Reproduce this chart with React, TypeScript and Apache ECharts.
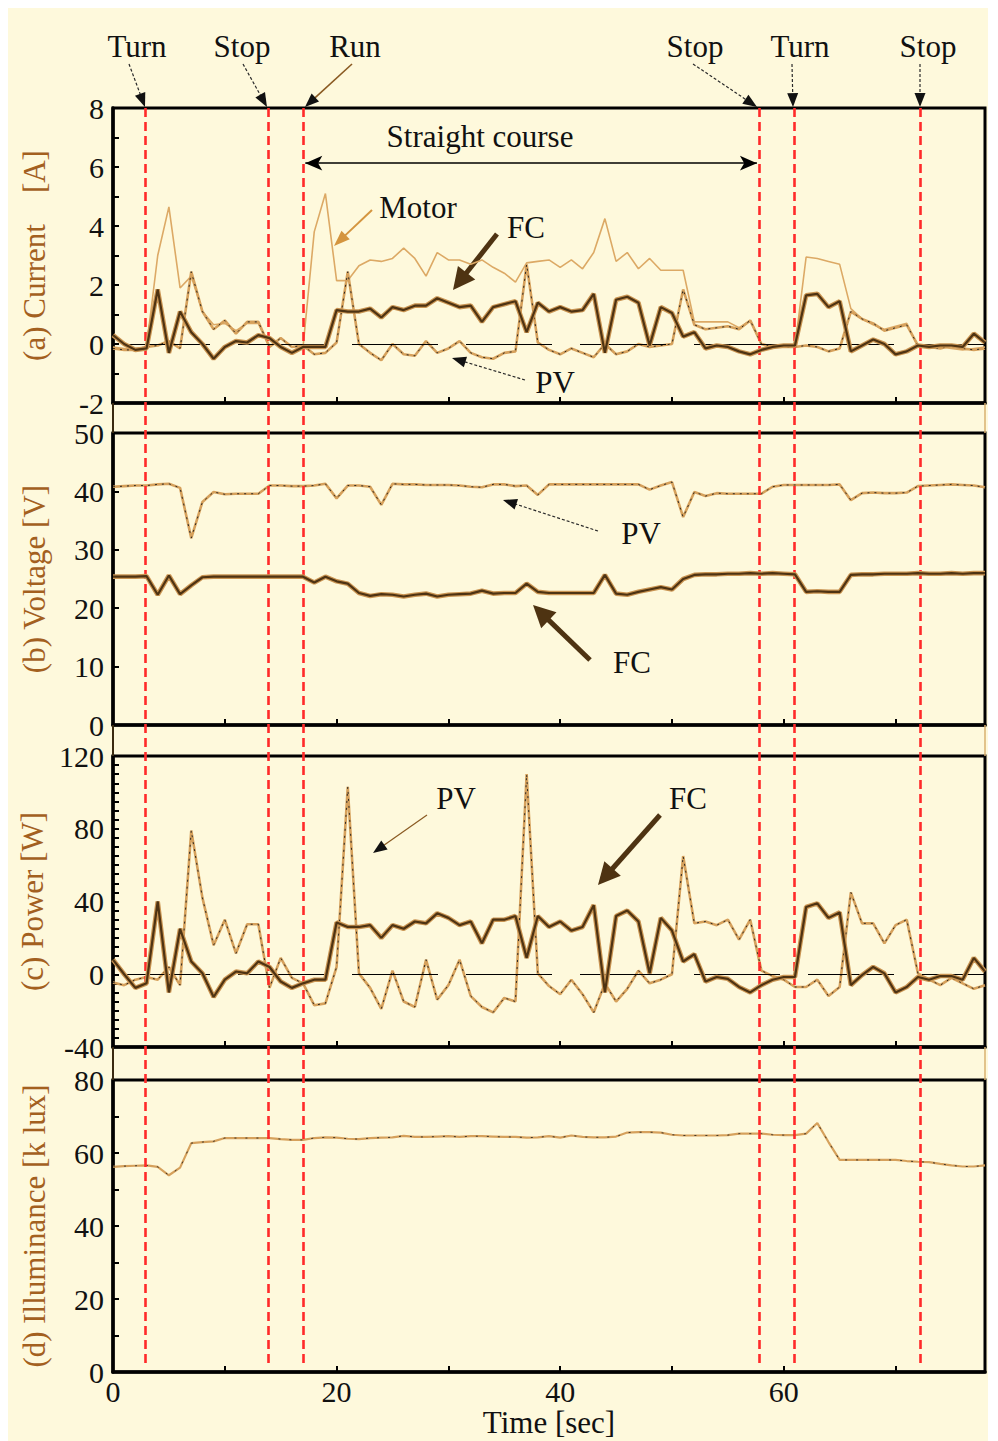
import React, { useEffect, useRef } from "react";
import * as echarts from "echarts";

// ---------------- data ----------------
const TIME = [
  0, 1, 2, 3, 4, 5, 6, 7, 8, 9, 10, 11, 12, 13, 14, 15, 16, 17, 18, 19,
  20, 21, 22, 23, 24, 25, 26, 27, 28, 29, 30, 31, 32, 33, 34, 35, 36, 37, 38, 39,
  40, 41, 42, 43, 44, 45, 46, 47, 48, 49, 50, 51, 52, 53, 54, 55, 56, 57, 58, 59,
  60, 61, 62, 63, 64, 65, 66, 67, 68, 69, 70, 71, 72, 73, 74, 75, 76, 77, 78,
];

const MOTOR_CURRENT = [
  -0.1, -0.15, -0.15, -0.1, 3.0, 4.65, 1.9, 2.3, 1.1, 0.65,
  0.7, 0.45, 0.7, 0.7, -0.1, 0.2, -0.1, -0.1, 3.8, 5.1,
  2.15, 2.15, 2.65, 2.85, 2.8, 2.9, 3.25, 2.9, 2.3, 3.1,
  2.85, 2.85, 2.7, 2.85, 2.6, 2.4, 2.1, 2.75, 2.8, 2.85,
  2.6, 2.85, 2.55, 3.1, 4.25, 2.8, 3.1, 2.55, 2.9, 2.5,
  2.5, 2.5, 0.75, 0.75, 0.75, 0.75, 0.55, 0.8, 0.0, -0.1,
  -0.1, -0.1, 2.95, 2.9, 2.8, 2.7, 1.2, 0.85, 0.65, 0.5,
  0.6, 0.7, -0.1, -0.1, -0.1, -0.15, -0.2, -0.15, -0.1,
];

const PV_CURRENT = [
  -0.15, -0.2, -0.2, -0.1, -0.05, 0.1, -0.15, 2.45, 1.1, 0.5,
  0.8, 0.35, 0.75, 0.75, -0.1, 0.2, -0.1, -0.05, -0.35, -0.3,
  0.05, 2.45, 0.0, -0.3, -0.55, 0.0, -0.35, -0.4, 0.1, -0.3,
  -0.15, 0.1, -0.3, -0.45, -0.5, -0.3, -0.25, 2.7, 0.05, -0.2,
  -0.35, -0.15, -0.3, -0.45, 0.0, -0.35, -0.25, 0.0, -0.1, -0.05,
  0.0, 1.85, 0.65, 0.5, 0.55, 0.6, 0.5, 0.8, 0.0, -0.1,
  -0.1, -0.1, -0.05, -0.1, -0.25, -0.15, 1.1, 0.85, 0.7, 0.45,
  0.55, 0.65, -0.05, -0.1, -0.15, -0.05, -0.15, -0.2, -0.15,
];

const FC_CURRENT = [
  0.3, 0.0, -0.2, -0.15, 1.85, -0.3, 1.1, 0.4, 0.0, -0.5,
  -0.1, 0.1, 0.05, 0.3, 0.2, -0.1, -0.3, -0.1, -0.1, -0.1,
  1.15, 1.1, 1.1, 1.2, 0.9, 1.25, 1.15, 1.3, 1.3, 1.55,
  1.4, 1.25, 1.3, 0.75, 1.25, 1.35, 1.45, 0.4, 1.4, 1.1,
  1.25, 1.1, 1.15, 1.7, -0.3, 1.5, 1.6, 1.4, -0.05, 1.25,
  1.05, 0.25, 0.4, -0.15, -0.05, -0.1, -0.25, -0.35, -0.2, -0.1,
  -0.05, -0.05, 1.65, 1.7, 1.25, 1.45, -0.25, -0.05, 0.15, 0.0,
  -0.35, -0.25, -0.05, -0.1, -0.05, -0.05, -0.1, 0.35, 0.05,
];

const PV_VOLTAGE = [
  40.8, 40.9, 41, 41, 41.2, 41.3, 40.6, 32, 38.2, 39.9,
  39.5, 39.6, 39.6, 39.6, 41, 41, 40.9, 40.9, 41, 41.3,
  38.8, 41, 41, 40.8, 37.7, 41.3, 41.2, 41.2, 41.1, 41.1,
  41.1, 41, 40.8, 40.7, 41.2, 41.2, 40.9, 41, 39.4, 41.2,
  41.2, 41.2, 41.2, 41.2, 41.2, 41.2, 41.2, 41.2, 40.3, 41,
  41.6, 35.6, 39.9, 39.2, 39.7, 39.6, 39.6, 39.6, 39.6, 40.8,
  41.1, 41.1, 41.1, 41.1, 41.1, 41.2, 38.5, 39.7, 39.8, 39.7,
  39.7, 39.8, 40.9, 41, 41.1, 41.2, 41.1, 41, 40.7,
];

const FC_VOLTAGE = [
  25.4, 25.4, 25.4, 25.5, 22.3, 25.6, 22.4, 23.9, 25.3, 25.4,
  25.4, 25.4, 25.4, 25.4, 25.4, 25.4, 25.4, 25.4, 24.4, 25.4,
  24.6, 24.2, 22.6, 22.1, 22.4, 22.3, 22.0, 22.3, 22.5, 22.0,
  22.3, 22.4, 22.5, 23.0, 22.5, 22.6, 22.6, 24.2, 22.8, 22.6,
  22.6, 22.6, 22.6, 22.6, 25.7, 22.5, 22.3, 22.8, 23.2, 23.6,
  23.2, 25.0, 25.7, 25.8, 25.8, 25.9, 25.9, 26.0, 25.9, 26.0,
  25.9, 25.8, 22.8, 22.9, 22.8, 22.8, 25.7, 25.8, 25.8, 25.9,
  25.9, 25.9, 26.0, 25.9, 25.9, 26.0, 25.9, 26.0, 26.0,
];

const PV_POWER = [
  -4.5, -6, -3, -1.5, -3, 4, -6, 79, 42, 16,
  30, 11.5, 27.5, 27.5, -7.5, 9, -2, -5, -17, -16,
  4, 103, 0.5, -7.5, -19, 2, -15, -18, 8, -14,
  -6, 8, -12, -18, -21, -13, -15, 110, 0.5, -6.5,
  -11, -3, -11, -21, -5, -15, -8, 2, -5, -3,
  0, 65, 28, 29, 27, 30, 19, 30, 2, -1,
  -3, -7, -7, -3, -12, -7, 45, 28, 28, 17,
  27, 30, 0.5, -3, -6, -2, -5, -8, -6,
];

const FC_POWER = [
  8, 0, -7.5, -5, 40, -10, 25, 7, 0.5, -12.5,
  -3, 1.5, 0.5, 7, 4, -4, -7.5, -5, -3, -3,
  28.5, 26, 26, 27, 20, 27, 25, 29, 28, 33.5,
  31, 27, 29, 17, 30, 30, 32, 9, 32, 26,
  29, 24, 26, 38, -10, 32, 35, 29, 0.5, 31,
  24, 7, 11, -4, -1.5, -2.5, -7, -10, -6, -3,
  -1.5, -1.5, 37, 39, 31, 34, -6, -0.5, 4, 0.5,
  -10, -7, -1.5, -3, -1, -1, -3, 9, 1.5,
];

const ILLUMINANCE = [
  56.2, 56.4, 56.5, 56.6, 56.2, 53.9, 56, 62.7, 63, 63.2,
  64.1, 64.1, 64.1, 64.1, 64.1, 63.8, 63.6, 63.6, 64.1, 64.3,
  64.2, 63.9, 63.8, 64.1, 64.2, 64.3, 64.7, 64.4, 64.4, 64.5,
  64.6, 64.4, 64.6, 64.6, 64.5, 64.4, 64.4, 64.2, 64.3, 64.6,
  64.2, 64.8, 64.4, 64.3, 64.3, 64.5, 65.6, 65.7, 65.7, 65.6,
  65.0, 64.8, 64.8, 64.8, 64.8, 64.9, 65.3, 65.3, 65.3, 65.0,
  64.9, 64.9, 65.3, 68.2, 63, 58.1, 58.1, 58.1, 58.1, 58.1,
  58.1, 57.8, 57.6, 57.5, 57.0, 56.6, 56.3, 56.3, 56.6,
];

const EVENT_TIMES = [2.9, 13.9, 17.0, 57.8, 60.9, 72.2];
const EVENT_LABELS = ["Turn", "Stop", "Run", "Stop", "Turn", "Stop"];
const STRAIGHT_COURSE = [17.2, 57.6];
const STRAIGHT_COURSE_LEVEL = 6.13;

const Y_NAMES = [
  "(a) Current\u00a0\u00a0\u00a0\u00a0[A]",
  "(b) Voltage [V]",
  "(c) Power [W]",
  "(d) Illuminance [k lux]",
];

// ---------------- styles ----------------
const FONT = "Liberation Serif";
const BG = "#FEF9DC";
const NAME_COLOR = "#a3601f";
const TAN = "#d6a15c";
const MOTOR = "#dca965";
const FC_DARK = "#4e3312";
const FC_EDGE = "#c99452";
const OFF = 8; // body margin: page coords -> chart coords
const TICK_FONT = 30;
const NAME_FONT = 31;
const NOTE_FONT = 31;

const GRIDS = [
  { left: 105, top: 100, width: 872, height: 295 },
  { left: 105, top: 425, width: 872, height: 292 },
  { left: 105, top: 748, width: 872, height: 291 },
  { left: 105, top: 1072, width: 872, height: 292 },
  { left: 105, top: 100, width: 872, height: 1255 }, // overlay for event lines
];

function pairs(values: number[]) {
  return TIME.map((t, i) => [t, values[i]]);
}

function line(grid: number, values: number[], lineStyle: any, z = 2, extra: any = {}) {
  return {
    type: "line",
    xAxisIndex: grid,
    yAxisIndex: grid,
    data: pairs(values),
    symbol: "none",
    showSymbol: false,
    silent: true,
    z,
    lineStyle,
    ...extra,
  };
}

function pvSeries(grid: number, values: number[], extra: any = {}) {
  return [
    line(grid, values, { color: TAN, width: 2.6 }, 3, extra),
    line(grid, values, { color: "#1b1b1b", width: 0.9, type: [2, 5] }, 4),
  ];
}

function fcSeries(grid: number, values: number[]) {
  return [
    line(grid, values, { color: FC_EDGE, width: 4.6 }, 5),
    line(grid, values, { color: FC_DARK, width: 2.2 }, 6),
  ];
}

function zeroLine() {
  return {
    symbol: "none",
    silent: true,
    label: { show: false },
    lineStyle: { color: "#000", width: 1.2, type: [86, 28], dashOffset: 103 },
    data: [{ yAxis: 0 }],
  };
}

function xAxis(i: number) {
  return {
    type: "value",
    gridIndex: i,
    min: 0,
    max: 78,
    interval: 10,
    axisLine: { show: true, onZero: false, lineStyle: { color: "#000", width: 3.5 } },
    axisTick: { show: true, inside: true, length: 6, lineStyle: { color: "#000", width: 2 } },
    axisLabel: {
      show: i === 3,
      fontFamily: FONT,
      fontSize: TICK_FONT,
      color: "#111",
      margin: 4,
      formatter: (v: number) => (v % 20 === 0 ? String(v) : ""),
    },
    splitLine: { show: false },
    name: i === 3 ? "Time [sec]" : "",
    nameLocation: "middle",
    nameGap: 34,
    nameTextStyle: { fontFamily: FONT, fontSize: NAME_FONT, color: "#111" },
  };
}

function yAxis(i: number, min: number, max: number, interval: number, minor: number) {
  return {
    type: "value",
    gridIndex: i,
    min,
    max,
    interval,
    name: Y_NAMES[i],
    nameLocation: "middle",
    nameRotate: 90,
    nameGap: 63,
    nameTextStyle: { fontFamily: FONT, fontSize: NAME_FONT, color: NAME_COLOR },
    axisLine: { show: true, onZero: false, lineStyle: { color: "#000", width: 3.5 } },
    axisTick: { show: true, inside: true, length: 6, lineStyle: { color: "#000", width: 2 } },
    minorTick: minor
      ? { show: true, splitNumber: minor, length: 6, lineStyle: { color: "#000", width: 2 } }
      : { show: false },
    axisLabel: { fontFamily: FONT, fontSize: TICK_FONT, color: "#111", margin: 9 },
    splitLine: { show: false },
  };
}

function arrow(
  x1: number, y1: number, x2: number, y2: number,
  o: { color: string; width: number; head: number; headW: number; dash?: number[]; headColor?: string }
) {
  const ax = x1 - OFF, ay = y1 - OFF, bx = x2 - OFF, by = y2 - OFF;
  const dx = bx - ax, dy = by - ay;
  const L = Math.hypot(dx, dy);
  const ux = dx / L, uy = dy / L;
  const cx = bx - ux * o.head, cy = by - uy * o.head;
  const px = -uy, py = ux;
  return {
    type: "group",
    silent: true,
    z: 20,
    children: [
      {
        type: "line",
        shape: { x1: ax, y1: ay, x2: cx + ux * 2, y2: cy + uy * 2 },
        style: { stroke: o.color, lineWidth: o.width, lineDash: o.dash || null, lineCap: "butt" },
      },
      {
        type: "polygon",
        shape: {
          points: [
            [bx, by],
            [cx + (px * o.headW) / 2, cy + (py * o.headW) / 2],
            [cx - (px * o.headW) / 2, cy - (py * o.headW) / 2],
          ],
        },
        style: { fill: o.headColor || o.color },
      },
    ],
  };
}

function label(text: string, x: number, y: number, size = NOTE_FONT) {
  return {
    type: "text",
    silent: true,
    z: 20,
    x: x - OFF,
    y: y - OFF,
    style: {
      text,
      fontFamily: FONT,
      fontSize: size,
      fill: "#111",
      align: "center",
      verticalAlign: "middle",
    },
  };
}

const THIN = { color: "#2a2a2a", width: 1.2, head: 14, headW: 11, dash: [3, 2], headColor: "#111" };
const THICK = { color: FC_DARK, width: 5, head: 22, headW: 22 };

export default function App() {
  const ref = useRef<HTMLDivElement>(null);

  useEffect(() => {
    if (!ref.current) return;
    const chart = echarts.init(ref.current, null, { renderer: "svg" });

    const topLabelX = [137, 242, 355, 695, 800, 928];
    const topArrowFrom = [[129, 64], [243, 64], [352, 64], [693, 64], [792, 64], [920, 64]];
    const topArrowTo = [[145, 107], [267, 107], [305, 107], [757, 107], [793, 107], [920, 107]];

    const graphic: any[] = [];
    EVENT_LABELS.forEach((txt, i) => {
      graphic.push(label(txt, topLabelX[i], 46));
      const style = i === 2
        ? { color: "#8a5a22", width: 1.6, head: 14, headW: 11, headColor: "#111" }
        : THIN;
      graphic.push(arrow(topArrowFrom[i][0], topArrowFrom[i][1], topArrowTo[i][0], topArrowTo[i][1], style));
    });
    graphic.push(label("Straight course", 480, 136));
    // panel (a)
    graphic.push(label("Motor", 418, 207));
    graphic.push(arrow(372, 210, 334, 246, { color: "#d4953f", width: 2, head: 16, headW: 12 }));
    graphic.push(label("FC", 526, 227));
    graphic.push(arrow(497, 234, 453, 290, THICK));
    graphic.push(label("PV", 555, 382));
    graphic.push(arrow(525, 380, 452, 358, THIN));
    // panel (b)
    graphic.push(label("PV", 641, 533));
    graphic.push(arrow(598, 531, 503, 500, THIN));
    graphic.push(label("FC", 632, 662));
    graphic.push(arrow(590, 660, 533, 605, THICK));
    // panel (c)
    graphic.push(label("PV", 456, 798));
    graphic.push(arrow(427, 815, 373, 853, { ...THIN, color: "#8a5a22", dash: undefined }));
    graphic.push(label("FC", 688, 798));
    graphic.push(arrow(660, 815, 598, 885, THICK));
    // small axis joints between panels
    [[403, 433], [725, 756], [1047, 1080]].forEach(([a, b]) => {
      graphic.push({
        type: "line", silent: true, z: 1,
        shape: { x1: 113 - OFF, y1: a - OFF, x2: 113 - OFF, y2: b - OFF },
        style: { stroke: "#3a2a10", lineWidth: 2 },
      });
      graphic.push({
        type: "line", silent: true, z: 1,
        shape: { x1: 985 - OFF, y1: a - OFF, x2: 985 - OFF, y2: b - OFF },
        style: { stroke: "#d9b070", lineWidth: 1.5 },
      });
    });

    const series: any[] = [
      // (a) current
      line(0, MOTOR_CURRENT, { color: MOTOR, width: 1.6 }, 2, { markLine: zeroLine() }),
      ...pvSeries(0, PV_CURRENT, {
        markLine: {
          silent: true,
          symbol: ["arrow", "arrow"],
          symbolSize: [11, 17],
          label: { show: false },
          lineStyle: { color: "#000", width: 1.5, type: "solid" },
          data: [[
            { coord: [STRAIGHT_COURSE[0], STRAIGHT_COURSE_LEVEL] },
            { coord: [STRAIGHT_COURSE[1], STRAIGHT_COURSE_LEVEL] },
          ]],
        },
      }),
      ...fcSeries(0, FC_CURRENT),
      // (b) voltage
      ...pvSeries(1, PV_VOLTAGE),
      ...fcSeries(1, FC_VOLTAGE),
      // (c) power
      ...pvSeries(2, PV_POWER, { markLine: zeroLine() }),
      ...fcSeries(2, FC_POWER),
      // (d) illuminance
      line(3, ILLUMINANCE, { color: TAN, width: 2.2 }, 3),
      line(3, ILLUMINANCE, { color: "#1b1b1b", width: 0.8, type: [2, 9] }, 4),
      // event lines overlay
      {
        type: "line",
        xAxisIndex: 4,
        yAxisIndex: 4,
        data: [[0, 0]],
        symbol: "none",
        lineStyle: { width: 0, opacity: 0 },
        silent: true,
        z: 10,
        markLine: {
          silent: true,
          symbol: "none",
          label: { show: false },
          lineStyle: { color: "#ff2a2a", width: 2.6, type: [9, 5] },
          data: EVENT_TIMES.map((t) => ({ xAxis: t })),
        },
      },
    ];

    chart.setOption({
      animation: false,
      backgroundColor: BG,
      textStyle: { fontFamily: FONT },
      grid: GRIDS.map((g, i) =>
        i < 4
          ? { ...g, show: true, borderColor: "#000", borderWidth: 3, backgroundColor: "transparent", containLabel: false }
          : { ...g, show: false, containLabel: false }
      ),
      xAxis: [
        xAxis(0), xAxis(1), xAxis(2), xAxis(3),
        { type: "value", gridIndex: 4, min: 0, max: 78, show: false },
      ],
      yAxis: [
        yAxis(0, -2, 8, 2, 2),
        yAxis(1, 0, 50, 10, 0),
        yAxis(2, -40, 120, 40, 8),
        yAxis(3, 0, 80, 20, 2),
        { type: "value", gridIndex: 4, min: 0, max: 1, show: false },
      ],
      series,
      graphic,
    });

    return () => chart.dispose();
  }, []);

  return <div ref={ref} style={{ width: 980, height: 1433, background: BG }} />;
}
